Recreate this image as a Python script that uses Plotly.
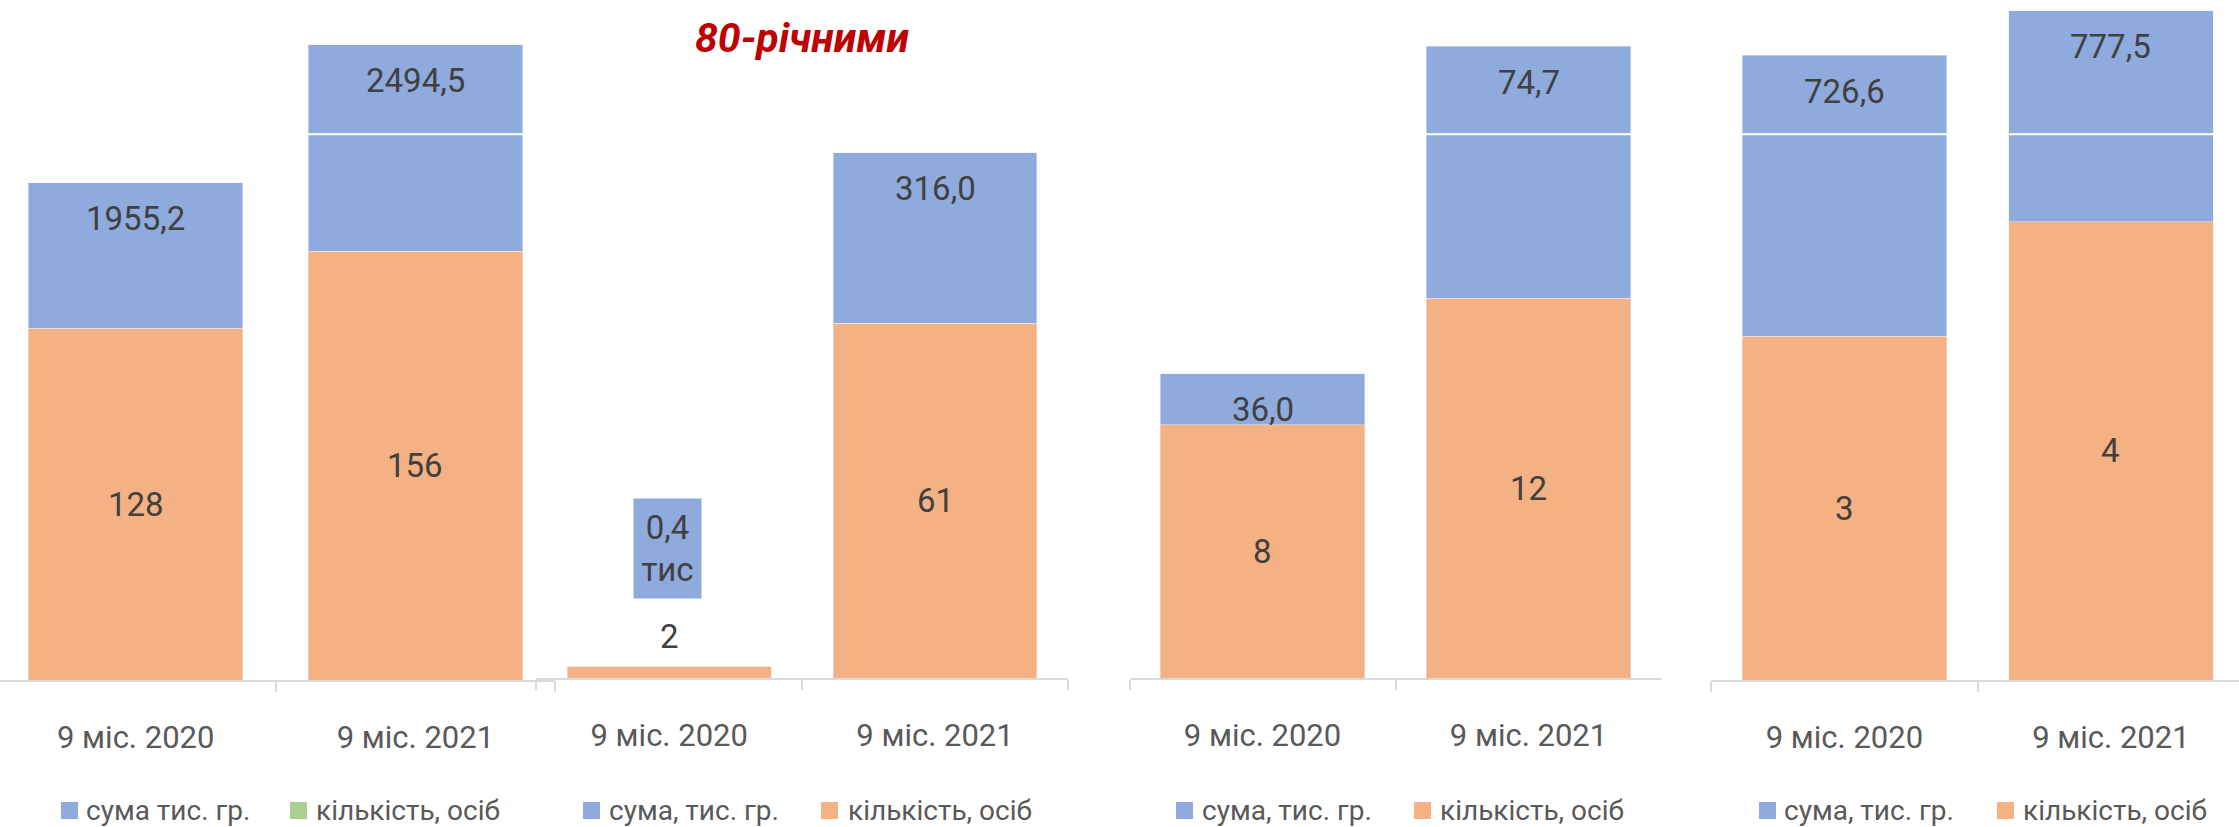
import plotly.graph_objects as go

W, H = 2239, 827

# ---------------- data ----------------
periods = ["9 міс. 2020", "9 міс. 2021"]

counts_p1 = [128, 156]
counts_p2 = [2, 61]
counts_p3 = [8, 12]
counts_p4 = [3, 4]

sums_p1 = [1955.2, 2494.5]
sums_p2 = [0.4, 316.0]
sums_p3 = [36.0, 74.7]
sums_p4 = [726.6, 777.5]

# visible length of the blue "sum" segment, in each panel's count units
# (the source chart does not draw sums to scale)
sumseg_p1 = [53.0, 75.2]
sumseg_p2 = [0.0, 29.3]
sumseg_p3 = [1.61, 7.95]
sumseg_p4 = [2.45, 1.84]

legend_sum_names = ["сума тис. гр.", "сума, тис. гр.", "сума, тис. гр.", "сума, тис. гр."]
legend_cnt_name = "кількість, осіб"
title_text = "80-річними"

# ---------------- styling / geometry ----------------
BLUE = "#8FAADC"
ORANGE = "#F4B183"
GREEN = "#A9D18E"
AXIS = "#D9D9D9"
LABEL = "#404040"
TICK = "#595959"
FONT = "Roboto"

# per panel: category centres (px), baseline (px), px per count unit
geom = [
    dict(c=(135.7, 415.4), base=680.0, ppu=2.747),
    dict(c=(669.2, 935.0), base=678.0, ppu=5.815),
    dict(c=(1262.5, 1528.5), base=678.0, ppu=31.66),
    dict(c=(1844.4, 2110.9), base=680.0, ppu=114.6),
]
# legend: (blue square left, blue text left, 2nd square left, 2nd text left) in px
legend_px = [(61, 86, 290, 316), (583, 609, 821, 848), (1176, 1202, 1414, 1440), (1759, 1784, 1997, 2023)]
cnt_legend_colors = [GREEN, ORANGE, ORANGE, ORANGE]
LEG_Y = 810  # legend row centre, px

panels = [
    (counts_p1, sums_p1, sumseg_p1),
    (counts_p2, sums_p2, sumseg_p2),
    (counts_p3, sums_p3, sumseg_p3),
    (counts_p4, sums_p4, sumseg_p4),
]


def fmt(v):
    return f"{v:.1f}".replace(".", ",")


def px(x):
    return x / W


def py(y):
    return 1 - y / H


fig = go.Figure()
annotations = []
shapes = []
layout = {}

for i, ((cnts, sums, seg), g) in enumerate(zip(panels, geom)):
    n = "" if i == 0 else str(i + 1)
    xa, ya = "x" + n, "y" + n
    c0, c1 = g["c"]
    s = c1 - c0
    left, right = c0 - s / 2, c1 + s / 2
    dl, dr = max(left, 0), min(right, W)
    r0 = -0.5 + (dl - left) / s
    r1 = 1.5 - (right - dr) / s
    base = g["base"]

    layout["xaxis" + n] = dict(
        type="category", domain=[dl / W, dr / W], range=[r0, r1], anchor=ya,
        showline=True, linecolor=AXIS, linewidth=2,
        ticks="outside", tickson="boundaries", ticklen=10, tickcolor=AXIS, tickwidth=2,
        tickfont=dict(family=FONT, size=31, color=TICK), ticklabelstandoff=29,
        showgrid=False, zeroline=False, fixedrange=True,
    )
    layout["yaxis" + n] = dict(
        domain=[1 - base / H, 1], range=[0, base / g["ppu"]], anchor=xa,
        visible=False, fixedrange=True,
    )

    fig.add_trace(go.Bar(x=periods, y=cnts, name=legend_cnt_name, marker_color=ORANGE,
                         xaxis=xa, yaxis=ya, showlegend=False))
    fig.add_trace(go.Bar(x=periods, y=seg, name=legend_sum_names[i], marker_color=BLUE,
                         xaxis=xa, yaxis=ya, showlegend=False))

    # legend (drawn as squares + text so it can sit at the very bottom edge)
    b_sq, b_tx, c_sq, c_tx = legend_px[i]
    for sq, tx, col, name in ((b_sq, b_tx, BLUE, legend_sum_names[i]),
                              (c_sq, c_tx, cnt_legend_colors[i], legend_cnt_name)):
        shapes.append(dict(type="rect", xref="paper", yref="paper",
                           x0=px(sq), x1=px(sq + 17), y0=py(LEG_Y + 9), y1=py(LEG_Y - 8),
                           fillcolor=col, line=dict(width=0)))
        annotations.append(dict(x=px(tx - 2), y=py(LEG_Y), xref="paper", yref="paper",
                                xanchor="left", yanchor="middle", showarrow=False,
                                text=name, font=dict(family=FONT, size=28, color=TICK)))

    # data labels
    for k in range(2):
        if seg[k] > 0:
            annotations.append(dict(
                x=periods[k], y=cnts[k] + seg[k], xref=xa, yref=ya, yshift=-36,
                text=fmt(sums[k]), showarrow=False, yanchor="middle",
                font=dict(family=FONT, size=33, color=LABEL)))
        else:
            annotations.append(dict(
                x=periods[k], y=cnts[k], xref=xa, yref=ya, yshift=118, xshift=-2,
                text=fmt(sums[k]) + "<br>тис", showarrow=False, yanchor="middle",
                width=67, height=99, bgcolor=BLUE, borderpad=0,
                font=dict(family=FONT, size=33, color=LABEL)))
        if cnts[k] * g["ppu"] > 40:
            annotations.append(dict(
                x=periods[k], y=cnts[k] / 2, xref=xa, yref=ya,
                text=str(cnts[k]), showarrow=False, yanchor="middle",
                font=dict(family=FONT, size=33, color=LABEL)))
        else:
            annotations.append(dict(
                x=periods[k], y=cnts[k], xref=xa, yref=ya, yshift=30,
                text=str(cnts[k]), showarrow=False, yanchor="middle",
                font=dict(family=FONT, size=33, color=LABEL)))

annotations.append(dict(
    x=px(801.5), y=py(38), xref="paper", yref="paper", showarrow=False,
    text=f"<b><i>{title_text}</i></b>", xanchor="center", yanchor="middle",
    font=dict(family=FONT, size=41, color="#C00000")))

shapes.append(dict(type="line", xref="paper", yref="paper", x0=0, x1=1,
                   y0=py(134.3), y1=py(134.3),
                   line=dict(color="white", width=2), layer="above"))

fig.update_layout(
    width=W, height=H, margin=dict(l=0, r=0, t=0, b=0),
    paper_bgcolor="white", plot_bgcolor="white",
    barmode="stack", bargap=0.233, showlegend=False,
    annotations=annotations, shapes=shapes,
    **layout,
)

fig.write_html("out.html", config={"displayModeBar": False},
               post_script="document.body.style.margin='0';document.body.style.overflow='hidden';")
